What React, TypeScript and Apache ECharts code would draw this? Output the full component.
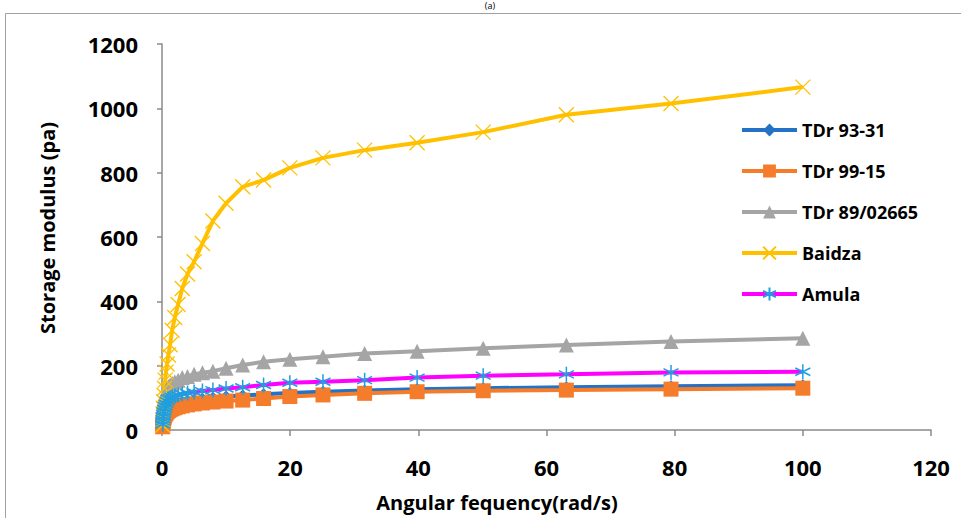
import React, { useEffect, useRef } from "react";
import * as echarts from "echarts";

// Angular frequency (rad/s)
const freq = [
  100, 79.43, 63.1, 50.12, 39.81, 31.62, 25.12, 19.95, 15.85, 12.59,
  10, 7.943, 6.31, 5.012, 3.981, 3.162, 2.512, 1.995, 1.585, 1.259,
  1, 0.794, 0.631, 0.501, 0.398, 0.316, 0.251, 0.2, 0.158, 0.126, 0.1,
];

const tdr9331 = [
  139, 136, 133, 130, 127, 123, 119, 115, 111, 107,
  104, 100, 97, 94, 91, 88, 85, 82, 79, 76,
  73, 69, 65, 60, 55, 50, 44, 38, 32, 25, 18,
];
const tdr9915 = [
  130, 127, 124, 122, 119, 114, 109, 104, 98, 93,
  90, 87, 84, 81, 78, 75, 72, 69, 66, 63,
  60, 56, 52, 48, 43, 38, 33, 28, 22, 16, 10,
];
const tdr8902665 = [
  285, 275, 264, 254, 245, 238, 228, 220, 212, 202,
  192, 183, 178, 173, 166, 163, 155, 150, 145, 140,
  135, 128, 120, 112, 103, 94, 84, 74, 62, 50, 38,
];
const baidza = [
  1066, 1015, 980, 926, 893, 870, 846, 815, 777, 756,
  705, 650, 580, 523, 485, 440, 390, 350, 310, 265,
  233, 205, 180, 155, 130, 108, 88, 68, 50, 32, 15,
];
const amula = [
  181, 179, 173, 169, 163, 155, 150, 147, 140, 133,
  129, 124, 121, 118, 115, 112, 109, 106, 103, 100,
  97, 90, 82, 74, 66, 58, 50, 42, 34, 26, 18,
];

const xTicks = [0, 20, 40, 60, 80, 100, 120];
const yTicks = [0, 200, 400, 600, 800, 1000, 1200];

const FONT = "'Open Sans', sans-serif";

const pts = (vals: number[]) => freq.map((x, i) => [x, vals[i]]);

export default function App() {
  const ref = useRef<HTMLDivElement>(null);
  useEffect(() => {
    if (!ref.current) return;
    const chart = echarts.init(ref.current, undefined, { renderer: "svg" });
    const lineSeries = (
      name: string,
      vals: number[],
      lineColor: string,
      symbol: string,
      symbolSize: number,
      item: any
    ) => ({
      type: "line",
      name,
      data: pts(vals),
      symbol,
      symbolSize,
      showSymbol: true,
      lineStyle: { color: lineColor, width: 4 },
      itemStyle: item,
      emphasis: { disabled: true },
    });
    chart.setOption({
      animation: false,
      grid: { left: 162, right: 30, top: 44, bottom: 88 },
      xAxis: {
        type: "value",
        min: xTicks[0],
        max: xTicks[xTicks.length - 1],
        interval: 20,
        splitLine: { show: false },
        axisLine: { lineStyle: { color: "#8a8a8a", width: 1.5 } },
        axisTick: { show: true, length: 6, lineStyle: { color: "#8a8a8a", width: 1.5 } },
        axisLabel: {
          color: "#000",
          fontSize: 22,
          fontWeight: "bold",
          fontFamily: FONT,
          margin: 26,
          formatter: (v: number) => String(v),
        },
      },
      yAxis: {
        type: "value",
        min: yTicks[0],
        max: yTicks[yTicks.length - 1],
        interval: 200,
        splitLine: { show: false },
        axisLine: { show: true, lineStyle: { color: "#8a8a8a", width: 1.5 } },
        axisTick: { show: true, length: 5, lineStyle: { color: "#8a8a8a", width: 1.5 } },
        axisLabel: {
          color: "#000",
          fontSize: 22,
          fontWeight: "bold",
          fontFamily: FONT,
          margin: 24,
          formatter: (v: number) => String(v),
        },
      },
      legend: {
        orient: "vertical",
        left: 735,
        top: 116,
        itemWidth: 55,
        itemHeight: 16,
        itemGap: 23,
        lineStyle: { width: 4 },
        textStyle: {
          color: "#000",
          fontSize: 18,
          lineHeight: 16,
          fontWeight: "bold",
          fontFamily: FONT,
        },
        data: ["TDr 93-31", "TDr 99-15", "TDr 89/02665", "Baidza", "Amula"],
      },
      graphic: [
        {
          type: "rect",
          shape: { x: 5.5, y: 13.5, width: 1000, height: 600 },
          style: { fill: "none", stroke: "#a0a0a0", lineWidth: 1 },
          silent: true,
        },
        {
          type: "text",
          x: 490,
          y: 1,
          style: {
            text: "(a)",
            fill: "#000",
            font: `9px ${FONT}`,
            align: "center",
            verticalAlign: "top",
          },
        },
        {
          type: "text",
          x: 497,
          y: 502,
          style: {
            text: "Angular fequency(rad/s)",
            fill: "#000",
            font: `bold 20px ${FONT}`,
            align: "center",
            verticalAlign: "middle",
          },
        },
        {
          type: "text",
          x: 47,
          y: 228,
          rotation: Math.PI / 2,
          style: {
            text: "Storage modulus (pa)",
            fill: "#000",
            font: `bold 20px ${FONT}`,
            align: "center",
            verticalAlign: "middle",
          },
        },
      ],
      series: [
        lineSeries("TDr 93-31", tdr9331, "#2372C6", "diamond", 12, { color: "#2372C6" }),
        lineSeries("TDr 99-15", tdr9915, "#F47C2B", "rect", 15, { color: "#F47C2B" }),
        lineSeries("TDr 89/02665", tdr8902665, "#A5A5A5", "triangle", 15, { color: "#A5A5A5" }),
        lineSeries("Baidza", baidza, "#FFC000", "path://M0,0L10,10M10,0L0,10", 15, {
          color: "none",
          borderColor: "#FFC000",
          borderWidth: 1.3,
        }),
        lineSeries(
          "Amula",
          amula,
          "#FF00FF",
          "path://M5,0L5,10M0.67,2.5L9.33,7.5M9.33,2.5L0.67,7.5",
          15,
          { color: "none", borderColor: "#1E9FE0", borderWidth: 1.5 }
        ),
      ],
    });
    return () => chart.dispose();
  }, []);
  return (
    <div
      ref={ref}
      style={{ position: "absolute", left: 0, top: 0, width: 961, height: 518, background: "#fff" }}
    />
  );
}
